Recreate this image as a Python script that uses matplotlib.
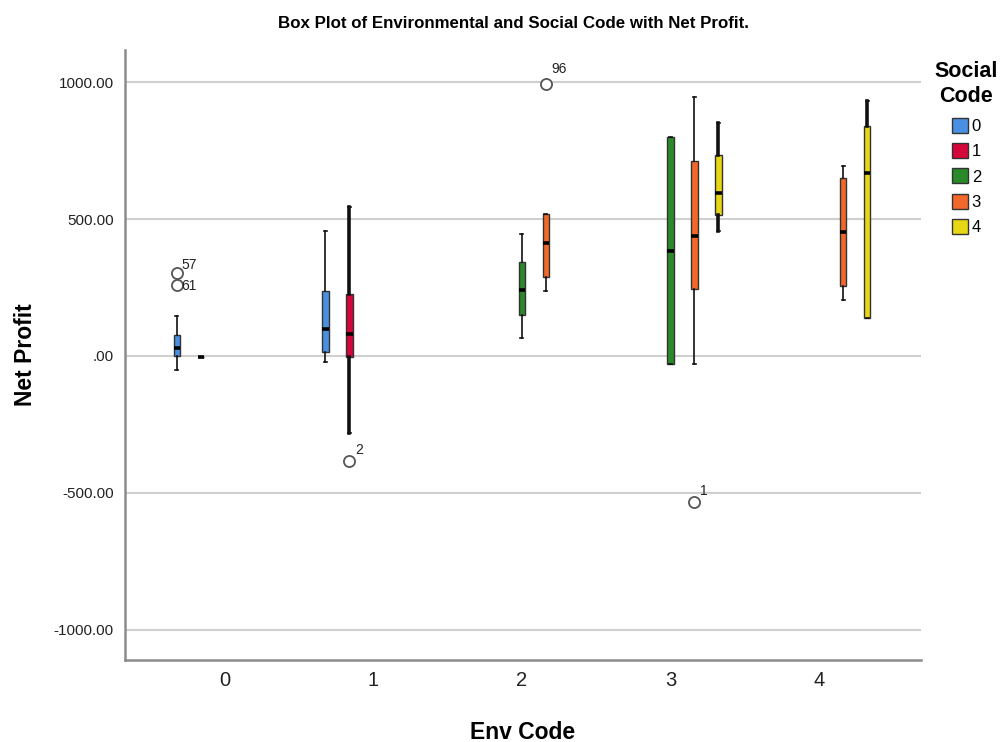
import matplotlib
matplotlib.use("Agg")
from matplotlib import pyplot as plt
from matplotlib.patches import Patch

plt.rcParams["font.family"] = ["Liberation Sans", "DejaVu Sans"]

# box statistics (one entry per box)
env_code = [0, 0, 1, 1, 2, 2, 3, 3, 3, 4, 4]
social_code = [0, 1, 0, 1, 2, 3, 2, 3, 4, 3, 4]
whis_lo = [-51, -2, -21, -282, 67, 236, -30, -30, 458, 206, 138]
q1 = [0, -2, 16, -2, 150, 289, -30, 245, 514, 254, 138]
median = [30, -2, 97, 79, 240, 414, 385, 440, 594, 453, 668]
q3 = [75, -2, 237, 225, 344, 518, 800, 713, 735, 650, 842]
whis_hi = [146, -2, 455, 543, 446, 518, 800, 947, 852, 695, 933]

# outliers: (box index, value, case label)
outlier_box = [0, 0, 3, 5, 7]
outlier_val = [303, 261, -383, 993, -534]
outlier_lbl = ["57", "61", "2", "96", "1"]
outlier_off = [(3, 1), (3, -6), (4, 3), (4, 6), (4, 3)]

social_levels = ["0", "1", "2", "3", "4"]
colors = ["#4a90e2", "#d4063a", "#2a8a2a", "#f2682a", "#e6d614"]
whisker_lw = [1.2, 2.6, 1.2, 1.2, 2.6]

fig = plt.figure(figsize=(10.03, 7.42), dpi=100)
ax = fig.add_axes([0.1246, 0.1105, 0.7937, 0.8221])

slot = 0.1616
for i in range(len(env_code)):
    h = social_code[i]
    fl = [v for b, v in zip(outlier_box, outlier_val) if b == i]
    stats = [dict(med=median[i], q1=q1[i], q3=q3[i], whislo=whis_lo[i],
                  whishi=whis_hi[i], fliers=fl)]
    pos = env_code[i] + (h - 2) * slot
    ax.bxp(stats, positions=[pos], widths=0.045, patch_artist=True,
           manage_ticks=False,
           boxprops=dict(facecolor=colors[h], edgecolor="#333333", linewidth=1.0),
           medianprops=dict(color="black", linewidth=2.6),
           whiskerprops=dict(color="#111111", linewidth=whisker_lw[h]),
           capprops=dict(color="#111111", linewidth=1.2),
           capwidths=0.02,
           flierprops=dict(marker="o", markerfacecolor="white",
                           markeredgecolor="#555555", markersize=8,
                           markeredgewidth=1.3))

for b, v, t, off in zip(outlier_box, outlier_val, outlier_lbl, outlier_off):
    x = env_code[b] + (social_code[b] - 2) * slot
    ax.annotate(t, (x, v), xytext=off, textcoords="offset points",
                fontsize=10, color="#222222", va="bottom", ha="left")

ax.set_xlim(-0.673, 4.687)
ax.set_ylim(-1111, 1118)
ax.set_xticks(range(5))
ax.set_xticklabels(["0", "1", "2", "3", "4"], fontsize=14.5, color="#222222")
yt = [-1000, -500, 0, 500, 1000]
ax.set_yticks(yt)
ax.set_yticklabels([("%.2f" % v) if v != 0 else ".00" for v in yt],
                   fontsize=11, color="#222222")
ax.tick_params(length=0, pad=8)
ax.grid(axis="y", color="#cfcfcf", linewidth=1.5)
ax.set_axisbelow(True)
for s in ["top", "right"]:
    ax.spines[s].set_visible(False)
for s in ["left", "bottom"]:
    ax.spines[s].set_color("#8c8c8c")
    ax.spines[s].set_linewidth(1.8)

ax.set_xlabel("Env Code", fontsize=16.5, fontweight="bold", labelpad=22)
ax.set_ylabel("Net Profit", fontsize=16.5, fontweight="bold", labelpad=12)
fig.text(0.512, 0.968, "Box Plot of Environmental and Social Code with Net Profit.",
         fontsize=12.2, fontweight="bold", ha="center", va="center")

handles = [Patch(facecolor=c, edgecolor="#333333", linewidth=1.0) for c in colors]
leg = fig.legend(handles, social_levels, loc="upper left",
                 bbox_to_anchor=(0.927, 0.925), frameon=False, fontsize=12,
                 title="Social\nCode", handlelength=1.0, handleheight=1.0,
                 handletextpad=0.2, labelspacing=0.55, borderpad=0.3,
                 borderaxespad=0.0)
leg.get_title().set_fontweight("bold")
leg.get_title().set_fontsize(15.5)
leg.get_title().set_linespacing(1.25)
leg.get_title().set_multialignment("center")
leg._legend_box.align = "center"
leg._legend_box.sep = 8

plt.savefig("out.png", dpi=100)
